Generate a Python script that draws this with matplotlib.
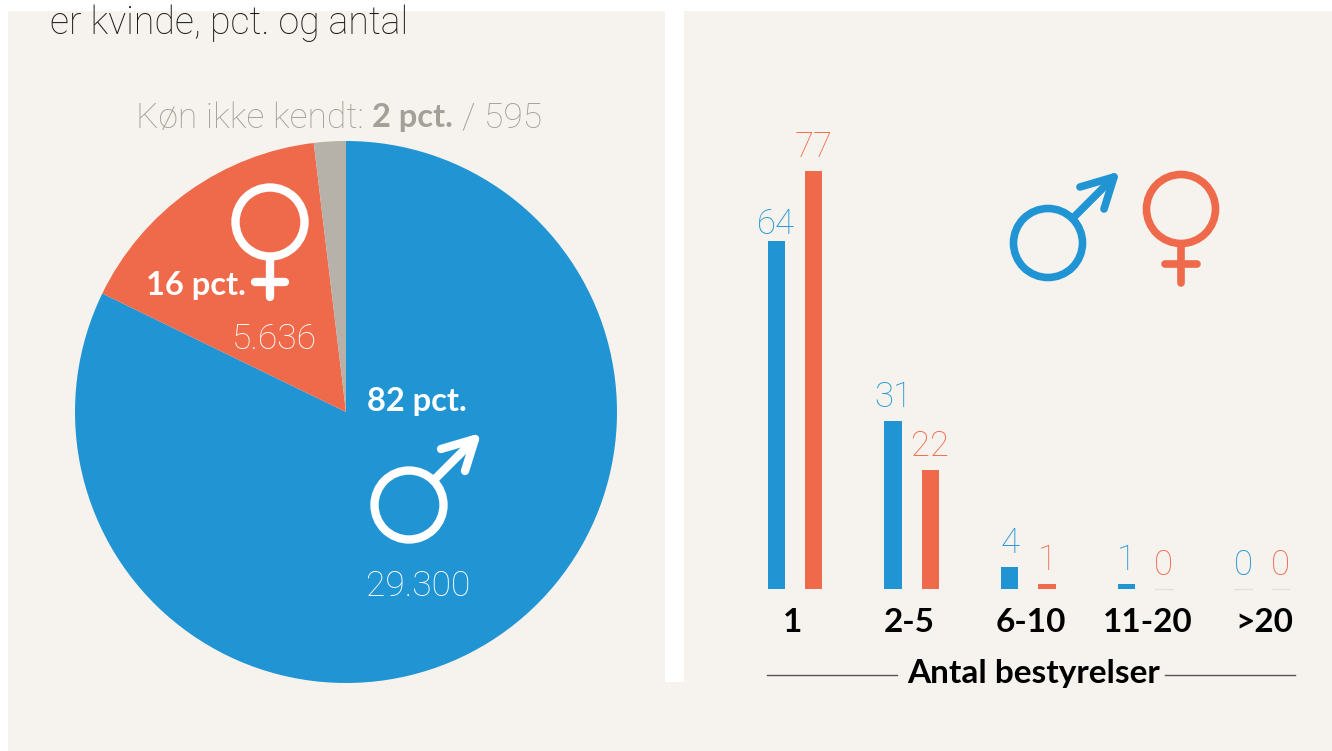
import numpy as np
import matplotlib
matplotlib.use('Agg')
import matplotlib.pyplot as plt
from matplotlib.patches import Circle, Rectangle

W, H = 1332, 751
BG = '#f6f3ee'
BLUE = '#2195d4'
RED = '#ef6a4b'
GREY = '#b7b2a9'
TXT_GREY = '#a3a097'
LIGHT = 'Roboto'

plt.rcParams['font.family'] = ['Lato', 'DejaVu Sans']

# pie, share of board members
pie_labels = ['Mand', 'Kvinde', 'Ukendt']
pie_share = [82.2, 15.9, 1.9]
pie_counts = ['29.300', '5.636', '595']

# bars, share with number of boards
groups = ['1', '2-5', '6-10', '11-20', '>20']
men = [64, 31, 4, 1, 0]
women = [77, 22, 1, 0, 0]


def px_axes(fig, x0, y0, x1, y1):
    """Axes placed by pixel box, y measured from the top of the image."""
    return fig.add_axes([x0 / W, 1 - y1 / H, (x1 - x0) / W, (y1 - y0) / H])


def male_symbol(ax, cx, cy, r, lw, color):
    ax.add_patch(Circle((cx, cy), r, fill=False, ec=color, lw=lw))
    d = r * np.sqrt(0.5)
    tip = (cx + 66, cy - 66)
    ax.plot([cx + d, tip[0]], [cy - d, tip[1]], color=color, lw=lw, solid_capstyle='round')
    ax.plot([tip[0] - 34, tip[0], tip[0] - 10], [tip[1] + 10, tip[1], tip[1] + 32],
            color=color, lw=lw, solid_capstyle='round', solid_joinstyle='round')


def female_symbol(ax, cx, cy, r, lw, color, bottom, bar_y, bar_w):
    ax.add_patch(Circle((cx, cy), r, fill=False, ec=color, lw=lw))
    ax.plot([cx, cx], [cy + r, bottom], color=color, lw=lw, solid_capstyle='round')
    ax.plot([cx - bar_w, cx + bar_w], [bar_y, bar_y], color=color, lw=lw, solid_capstyle='round')


fig = plt.figure(figsize=(W / 100, H / 100), dpi=100, facecolor='white')

# background panels
bg = px_axes(fig, 0, 0, W, H)
bg.set_xlim(0, W)
bg.set_ylim(H, 0)
bg.axis('off')
bg.add_patch(Rectangle((8, 11), W - 8, H - 11, fc=BG, ec='none'))
bg.add_patch(Rectangle((665, 11), 19, 671, fc='white', ec='none'))

# pie
ax_pie = px_axes(fig, 75, 141, 617, 683)
ax_pie.pie(pie_share, colors=[BLUE, RED, GREY], startangle=90, counterclock=False, radius=1,
           wedgeprops={'linewidth': 0})
ax_pie.set_xlim(-1, 1)
ax_pie.set_ylim(-1, 1)

# bars
ax_bar = px_axes(fig, 740, 130, 1310, 589)
x = np.arange(len(groups))
offset = 0.16
ax_bar.bar(x - offset, men, 0.15, color=BLUE)
ax_bar.bar(x + offset, women, 0.15, color=RED)
ax_bar.set_ylim(0, 459 / 5.43)
ax_bar.set_xlim((740 - 795) / 116.7, (1310 - 795) / 116.7)
ax_bar.axis('off')
for i in x:
    # the 64 label sits closer to its bar than the others
    pad = 0.0 if men[i] == 64 else 1.3
    ax_bar.text(i - offset, men[i] + pad, str(men[i]), color=BLUE, fontsize=25, family=LIGHT, fontweight='light',
                ha='center', va='bottom')
    ax_bar.text(i + offset, women[i] + 1.2, str(women[i]), color=RED, fontsize=25, family=LIGHT, fontweight='light',
                ha='center', va='bottom')
    shift = -0.02 if i < 2 else 0.02
    ax_bar.text(i + shift, -6.2, groups[i], color='black', fontsize=24, fontweight='bold', ha='center', va='center',
                clip_on=False)
    # zero values still get a faint hairline
    if men[i] == 0:
        ax_bar.plot([i - offset - 0.075, i - offset + 0.075], [0, 0], color='#e2e0da', lw=1, clip_on=False)
    if women[i] == 0:
        ax_bar.plot([i + offset - 0.075, i + offset + 0.075], [0, 0], color='#e2e0da', lw=1, clip_on=False)

# overlay for text and symbols
ov = px_axes(fig, 0, 0, W, H)
ov.set_xlim(0, W)
ov.set_ylim(H, 0)
ov.axis('off')
ov.patch.set_alpha(0)

title = ov.text(50, 23, 'er kvinde, pct. og antal', fontsize=27, family=LIGHT, fontweight='light', color='#1a1a1a',
                ha='left', va='center')
title.set_clip_path(Rectangle((0, 11), W, H, transform=ov.transData))

ov.text(136, 118, 'Køn ikke kendt:', fontsize=25.5, family=LIGHT, fontweight='light', color=TXT_GREY, ha='left', va='center')
ov.text(372, 117, '2 pct.', fontsize=23.5, fontweight='bold', color=TXT_GREY, ha='left', va='center')
ov.text(462, 118, '/ 595', fontsize=25.5, family=LIGHT, fontweight='light', color=TXT_GREY, ha='left', va='center')

ov.text(146, 285, '16 pct.', fontsize=23.5, fontweight='bold', color='white', ha='left', va='center')
ov.text(274, 339, pie_counts[1], fontsize=25.5, family=LIGHT, fontweight='light', color='white', ha='center', va='center')
ov.text(367, 402, '82 pct.', fontsize=23.5, fontweight='bold', color='white', ha='left', va='center')
ov.text(418, 586, pie_counts[0], fontsize=25.5, family=LIGHT, fontweight='light', color='white', ha='center', va='center')

female_symbol(ov, 270, 222, 34.5, 6, 'white', 297, 282, 15)
male_symbol(ov, 409, 505, 34.5, 6, 'white')
male_symbol(ov, 1048, 243, 34.5, 5.5, BLUE)
female_symbol(ov, 1181, 209, 34.5, 5.5, RED, 283, 264, 16)

ov.text(1034, 673, 'Antal bestyrelser', fontsize=24, fontweight='bold', color='black', ha='center', va='center')
ov.plot([767, 897], [674.5, 674.5], color='#555555', lw=1)
ov.plot([1165, 1295], [674.5, 674.5], color='#555555', lw=1)

fig.savefig('out.png', dpi=100, facecolor='white')
